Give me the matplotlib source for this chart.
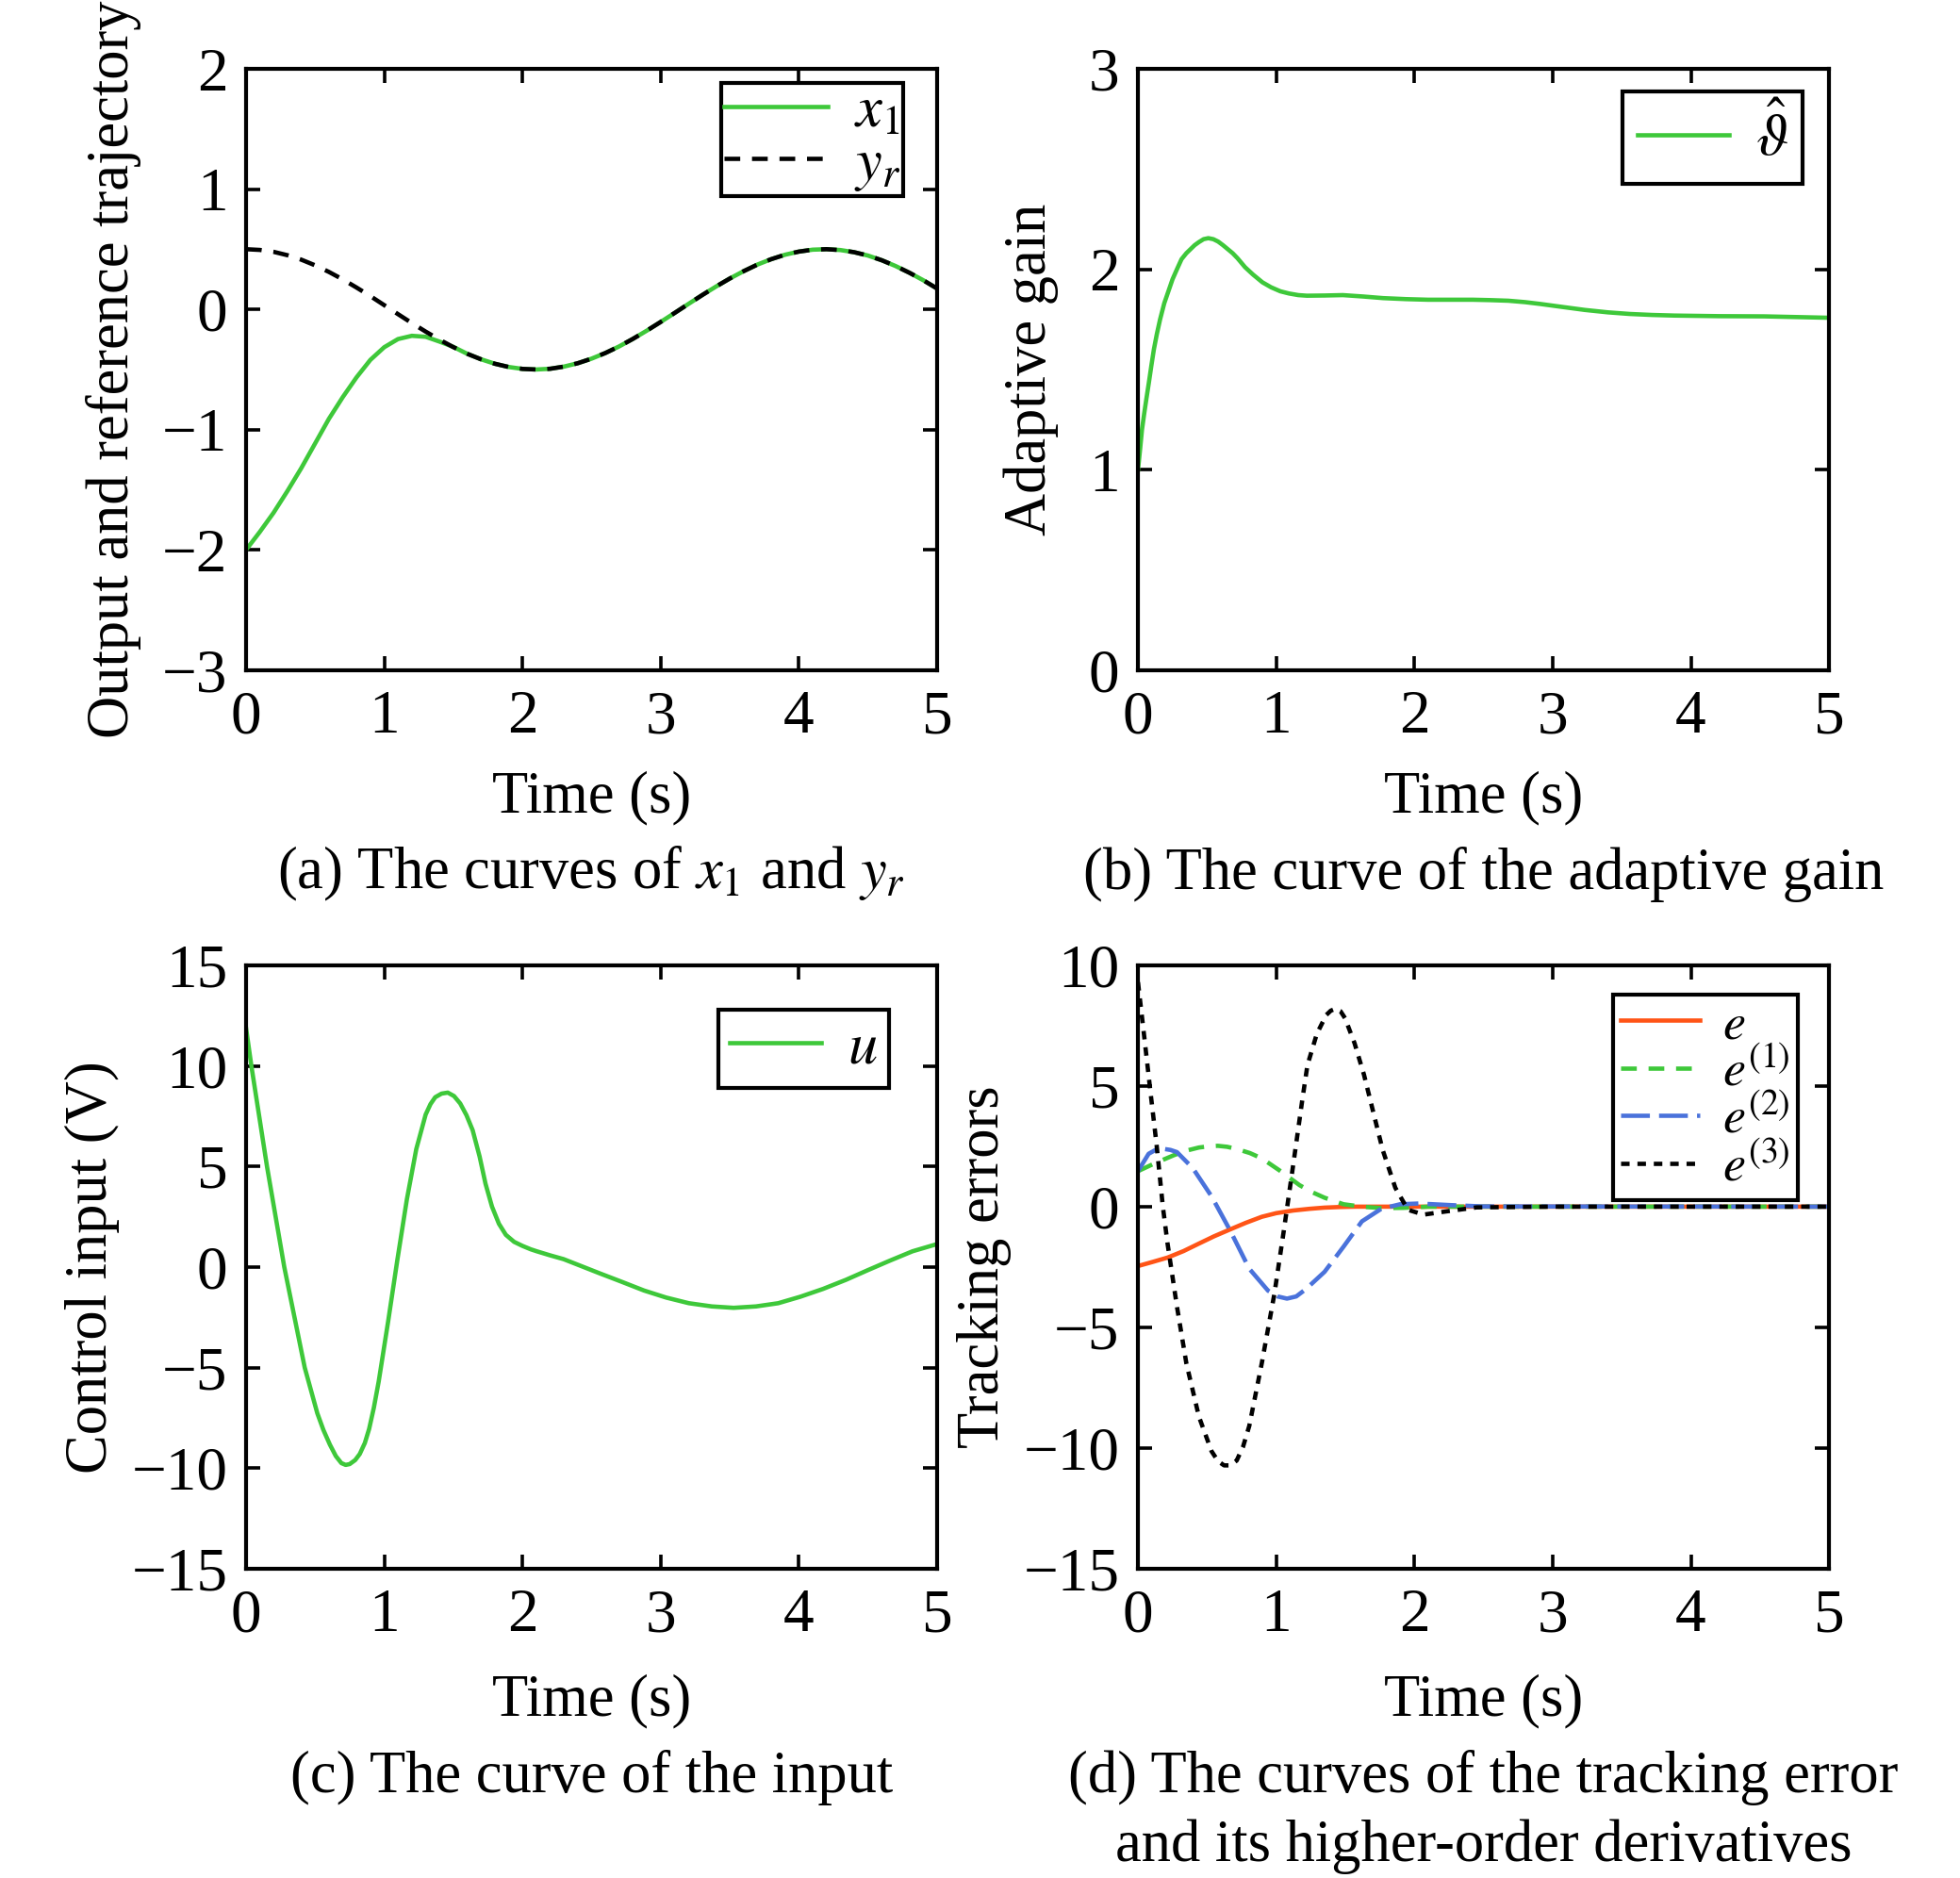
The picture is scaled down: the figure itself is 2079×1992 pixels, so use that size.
import matplotlib
matplotlib.use("Agg")
import matplotlib.pyplot as plt

plt.rcParams.update({
    "font.family": ["Liberation Serif", "DejaVu Serif"],
    "mathtext.fontset": "stix",
    "font.size": 45,
    "xtick.labelsize": 47, "ytick.labelsize": 47,
    "lines.scale_dashes": False,
    "axes.linewidth": 3.0,
    "xtick.direction": "in", "ytick.direction": "in",
    "xtick.top": True, "ytick.right": True,
    "xtick.major.size": 11, "ytick.major.size": 11,
    "xtick.major.width": 2.6, "ytick.major.width": 2.6,
    "xtick.major.pad": 15, "ytick.major.pad": 14,
    "legend.fancybox": False, "legend.edgecolor": "black", "legend.framealpha": 1,
})

GREEN = "#3ec83a"
RED = "#ff5416"
BLUE = "#4a72db"
LW = 3.3

# ---- (a) output x1 and reference yr ----
t_a = [0.0, 0.1, 0.2, 0.3, 0.4, 0.5, 0.6, 0.7, 0.8, 0.9,
       1.0, 1.1, 1.2, 1.3, 1.4, 1.5, 1.6, 1.7, 1.8, 1.9,
       2.0, 2.1, 2.2, 2.3, 2.4, 2.5, 2.6, 2.7, 2.8, 2.9,
       3.0, 3.1, 3.2, 3.3, 3.4, 3.5, 3.6, 3.7, 3.8, 3.9,
       4.0, 4.1, 4.2, 4.3, 4.4, 4.5, 4.6, 4.7, 4.8, 4.9, 5.0]
y_r = [0.500, 0.494, 0.478, 0.450, 0.413, 0.366, 0.311, 0.249, 0.181, 0.110,
       0.035, -0.040, -0.114, -0.185, -0.252, -0.314, -0.369, -0.415, -0.452, -0.479,
       -0.495, -0.500, -0.494, -0.476, -0.448, -0.410, -0.363, -0.308, -0.245, -0.177,
       -0.105, -0.031, 0.044, 0.118, 0.189, 0.256, 0.317, 0.372, 0.417, 0.454,
       0.480, 0.496, 0.500, 0.493, 0.475, 0.447, 0.408, 0.360, 0.304, 0.242, 0.173]
x_1 = [-2.000, -1.850, -1.690, -1.510, -1.320, -1.115, -0.910, -0.730, -0.565, -0.420,
       -0.315, -0.247, -0.220, -0.228, -0.268, -0.312, -0.369, -0.415, -0.452, -0.479,
       -0.495, -0.500, -0.494, -0.476, -0.448, -0.410, -0.363, -0.308, -0.245, -0.177,
       -0.105, -0.031, 0.044, 0.118, 0.189, 0.256, 0.317, 0.372, 0.417, 0.454,
       0.480, 0.496, 0.500, 0.493, 0.475, 0.447, 0.408, 0.360, 0.304, 0.242, 0.173]

# ---- (b) adaptive gain ----
t_b = [0.0, 0.015, 0.029, 0.045, 0.06, 0.08, 0.097, 0.115, 0.136, 0.16,
       0.19, 0.22, 0.25, 0.282, 0.315, 0.35, 0.38, 0.41, 0.44, 0.475,
       0.509, 0.545, 0.58, 0.615, 0.65, 0.685, 0.72, 0.775, 0.833, 0.9,
       0.963, 1.03, 1.093, 1.16, 1.222, 1.35, 1.482, 1.63, 1.774, 1.94,
       2.098, 2.26, 2.422, 2.55, 2.68, 2.8, 2.909, 3.07, 3.233, 3.4,
       3.557, 3.72, 3.881, 4.206, 4.53, 5.0]
gain = [1.0, 1.10, 1.20, 1.28, 1.35, 1.44, 1.52, 1.60, 1.675, 1.75,
        1.83, 1.89, 1.95, 2.0, 2.05, 2.08, 2.10, 2.12, 2.135, 2.15,
        2.155, 2.15, 2.138, 2.12, 2.10, 2.08, 2.055, 2.01, 1.973, 1.935,
        1.91, 1.89, 1.879, 1.871, 1.868, 1.869, 1.871, 1.864, 1.856, 1.851,
        1.848, 1.848, 1.848, 1.846, 1.843, 1.836, 1.827, 1.812, 1.797, 1.785,
        1.777, 1.772, 1.769, 1.766, 1.765, 1.758]

# ---- (c) control input ----
t_u = [0.0, 0.039, 0.152, 0.277, 0.425, 0.516, 0.56, 0.607, 0.65, 0.69,
       0.721, 0.75, 0.79, 0.823, 0.86, 0.891, 0.925, 0.96, 1.028, 1.096,
       1.164, 1.232, 1.30, 1.335, 1.369, 1.415, 1.46, 1.505, 1.55, 1.595,
       1.64, 1.69, 1.733, 1.78, 1.83, 1.88, 1.94, 2.0, 2.06, 2.104,
       2.2, 2.298, 2.557, 2.72, 2.88, 3.04, 3.204, 3.37, 3.528, 3.69,
       3.851, 4.01, 4.175, 4.34, 4.498, 4.66, 4.822, 5.0]
u = [11.9, 10.0, 5.0, 0.0, -5.0, -7.27, -8.1, -8.83, -9.4, -9.75,
     -9.84, -9.8, -9.6, -9.3, -8.75, -8.05, -7.0, -5.7, -2.73, 0.39,
     3.36, 5.86, 7.58, 8.1, 8.44, 8.62, 8.67, 8.5, 8.13, 7.55,
     6.8, 5.5, 4.14, 3.0, 2.15, 1.6, 1.25, 1.05, 0.88, 0.78,
     0.58, 0.39, -0.31, -0.74, -1.17, -1.52, -1.80, -1.96, -2.03, -1.96,
     -1.80, -1.48, -1.09, -0.64, -0.16, 0.32, 0.78, 1.14]

# ---- (d) tracking error and derivatives ----
t_e0 = [0.0, 0.1, 0.214, 0.33, 0.441, 0.55, 0.668, 0.78, 0.896, 1.0,
        1.123, 1.24, 1.35, 1.46, 1.578, 2.0, 5.0]
e0 = [-2.46, -2.30, -2.11, -1.84, -1.53, -1.23, -0.94, -0.67, -0.42, -0.27,
      -0.16, -0.09, -0.04, -0.015, 0.0, 0.0, 0.0]
t_e1 = [0.0, 0.123, 0.259, 0.35, 0.441, 0.51, 0.578, 0.645, 0.714, 0.81,
        0.896, 1.032, 1.169, 1.26, 1.35, 1.487, 1.62, 1.76, 1.92, 2.1, 5.0]
e1 = [1.47, 1.80, 2.13, 2.32, 2.45, 2.50, 2.52, 2.48, 2.39, 2.22,
      2.0, 1.47, 0.89, 0.60, 0.37, 0.10, 0.0, -0.06, -0.05, 0.0, 0.0]
t_e2 = [0.0, 0.077, 0.13, 0.19, 0.235, 0.282, 0.396, 0.532, 0.668, 0.805,
        0.941, 1.01, 1.078, 1.145, 1.214, 1.35, 1.487, 1.62, 1.76, 1.896,
        2.03, 2.26, 2.49, 5.0]
e2 = [1.47, 2.19, 2.36, 2.39, 2.35, 2.26, 1.60, 0.43, -1.0, -2.57,
      -3.48, -3.72, -3.81, -3.72, -3.42, -2.70, -1.66, -0.61, -0.09, 0.10,
      0.13, 0.065, 0.01, 0.0]
t_e3 = [0.0, 0.043, 0.089, 0.134, 0.18, 0.214, 0.282, 0.35, 0.441, 0.532,
        0.58, 0.623, 0.665, 0.714, 0.76, 0.805, 0.896, 0.987, 1.055, 1.123,
        1.19, 1.226, 1.294, 1.362, 1.395, 1.43, 1.465, 1.498, 1.567, 1.635,
        1.703, 1.771, 1.862, 1.953, 2.067, 2.226, 2.45, 3.0, 5.0]
e3 = [9.3, 7.16, 4.82, 2.6, 0.0, -1.53, -4.14, -6.49, -8.70, -10.13,
      -10.55, -10.72, -10.72, -10.52, -9.95, -9.09, -6.48, -3.61, -1.0, 1.73,
      4.47, 5.86, 7.16, 7.94, 8.12, 8.2, 8.1, 7.81, 6.77, 5.47,
      3.9, 2.34, 0.78, -0.13, -0.33, -0.2, -0.03, 0.0, 0.0]

fig = plt.figure(figsize=(20.79, 19.92), dpi=100)
L, R, W = 0.1255, 0.5806, 0.3526
ax_a = fig.add_axes([L, 0.6431, W, 0.3203])
ax_b = fig.add_axes([R, 0.6431, W, 0.3203])
ax_c = fig.add_axes([L, 0.1647, W, 0.3213])
ax_d = fig.add_axes([R, 0.1647, W, 0.3213])


def style(ax, ylim, yticks, ylabel, ylab_x, xlab_y, caption, cap_y):
    ax.set_xlim(0, 5)
    ax.set_xticks([0, 1, 2, 3, 4, 5])
    ax.set_ylim(*ylim)
    ax.set_yticks(yticks)
    ax.set_xlabel("Time (s)")
    ax.xaxis.set_label_coords(0.5, xlab_y)
    ax.set_ylabel(ylabel)
    ax.yaxis.set_label_coords(ylab_x, 0.5)
    for i, line in enumerate(caption):
        ax.text(0.5, cap_y - i * 0.114, line, transform=ax.transAxes,
                ha="center", va="center")


def legend(ax, anchor, hl=1.55, **kw):
    leg = ax.legend(loc="upper right", bbox_to_anchor=anchor, handlelength=hl,
                    handletextpad=0.45, borderaxespad=0, **kw)
    leg.get_frame().set_linewidth(3.0)
    return leg


# (a)
ax_a.plot(t_a, x_1, color=GREEN, lw=LW, label=r"$x_1$")
ax_a.plot(t_a, y_r, color="black", lw=LW, dashes=(12, 9), label=r"$y_r$")
style(ax_a, (-3, 2), [-3, -2, -1, 0, 1, 2], "Output and reference trajectory", -0.151,
      -0.167, [r"(a) The curves of $x_1$ and $y_r$"], -0.339)
legend(ax_a, (0.951, 0.977), hl=1.75, labelspacing=-0.05, borderpad=0.05)

# (b)
ax_b.plot(t_b, gain, color=GREEN, lw=LW, label=r"$\hat{\vartheta}$")
style(ax_b, (0, 3), [0, 1, 2, 3], "Adaptive gain", -0.115,
      -0.167, ["(b) The curve of the adaptive gain"], -0.339)
legend(ax_b, (0.962, 0.962), borderpad=0.25)

# (c)
ax_c.plot(t_u, u, color=GREEN, lw=LW, label=r"$u$")
style(ax_c, (-15, 15), [-15, -10, -5, 0, 5, 10, 15], "Control input (V)", -0.183,
      -0.175, ["(c) The curve of the input"], -0.346)
legend(ax_c, (0.931, 0.926), borderpad=0.2)

# (d)
ax_d.plot(t_e0, e0, color=RED, lw=LW, label=r"$e$")
ax_d.plot(t_e1, e1, color=GREEN, lw=LW, dashes=(12, 9), label=r"$e^{(1)}$")
ax_d.plot(t_e2, e2, color=BLUE, lw=LW, dashes=(22, 7), label=r"$e^{(2)}$")
ax_d.plot(t_e3, e3, color="black", lw=LW, dashes=(6.5, 6), label=r"$e^{(3)}$")
style(ax_d, (-15, 10), [-15, -10, -5, 0, 5, 10], "Tracking errors", -0.183,
      -0.175, ["(d) The curves of the tracking error", "and its higher-order derivatives"],
      -0.346)
legend(ax_d, (0.955, 0.952), hl=1.55, fontsize=39, labelspacing=0.0, borderpad=0.15)

fig.savefig("out.png", dpi=100, facecolor="white")
